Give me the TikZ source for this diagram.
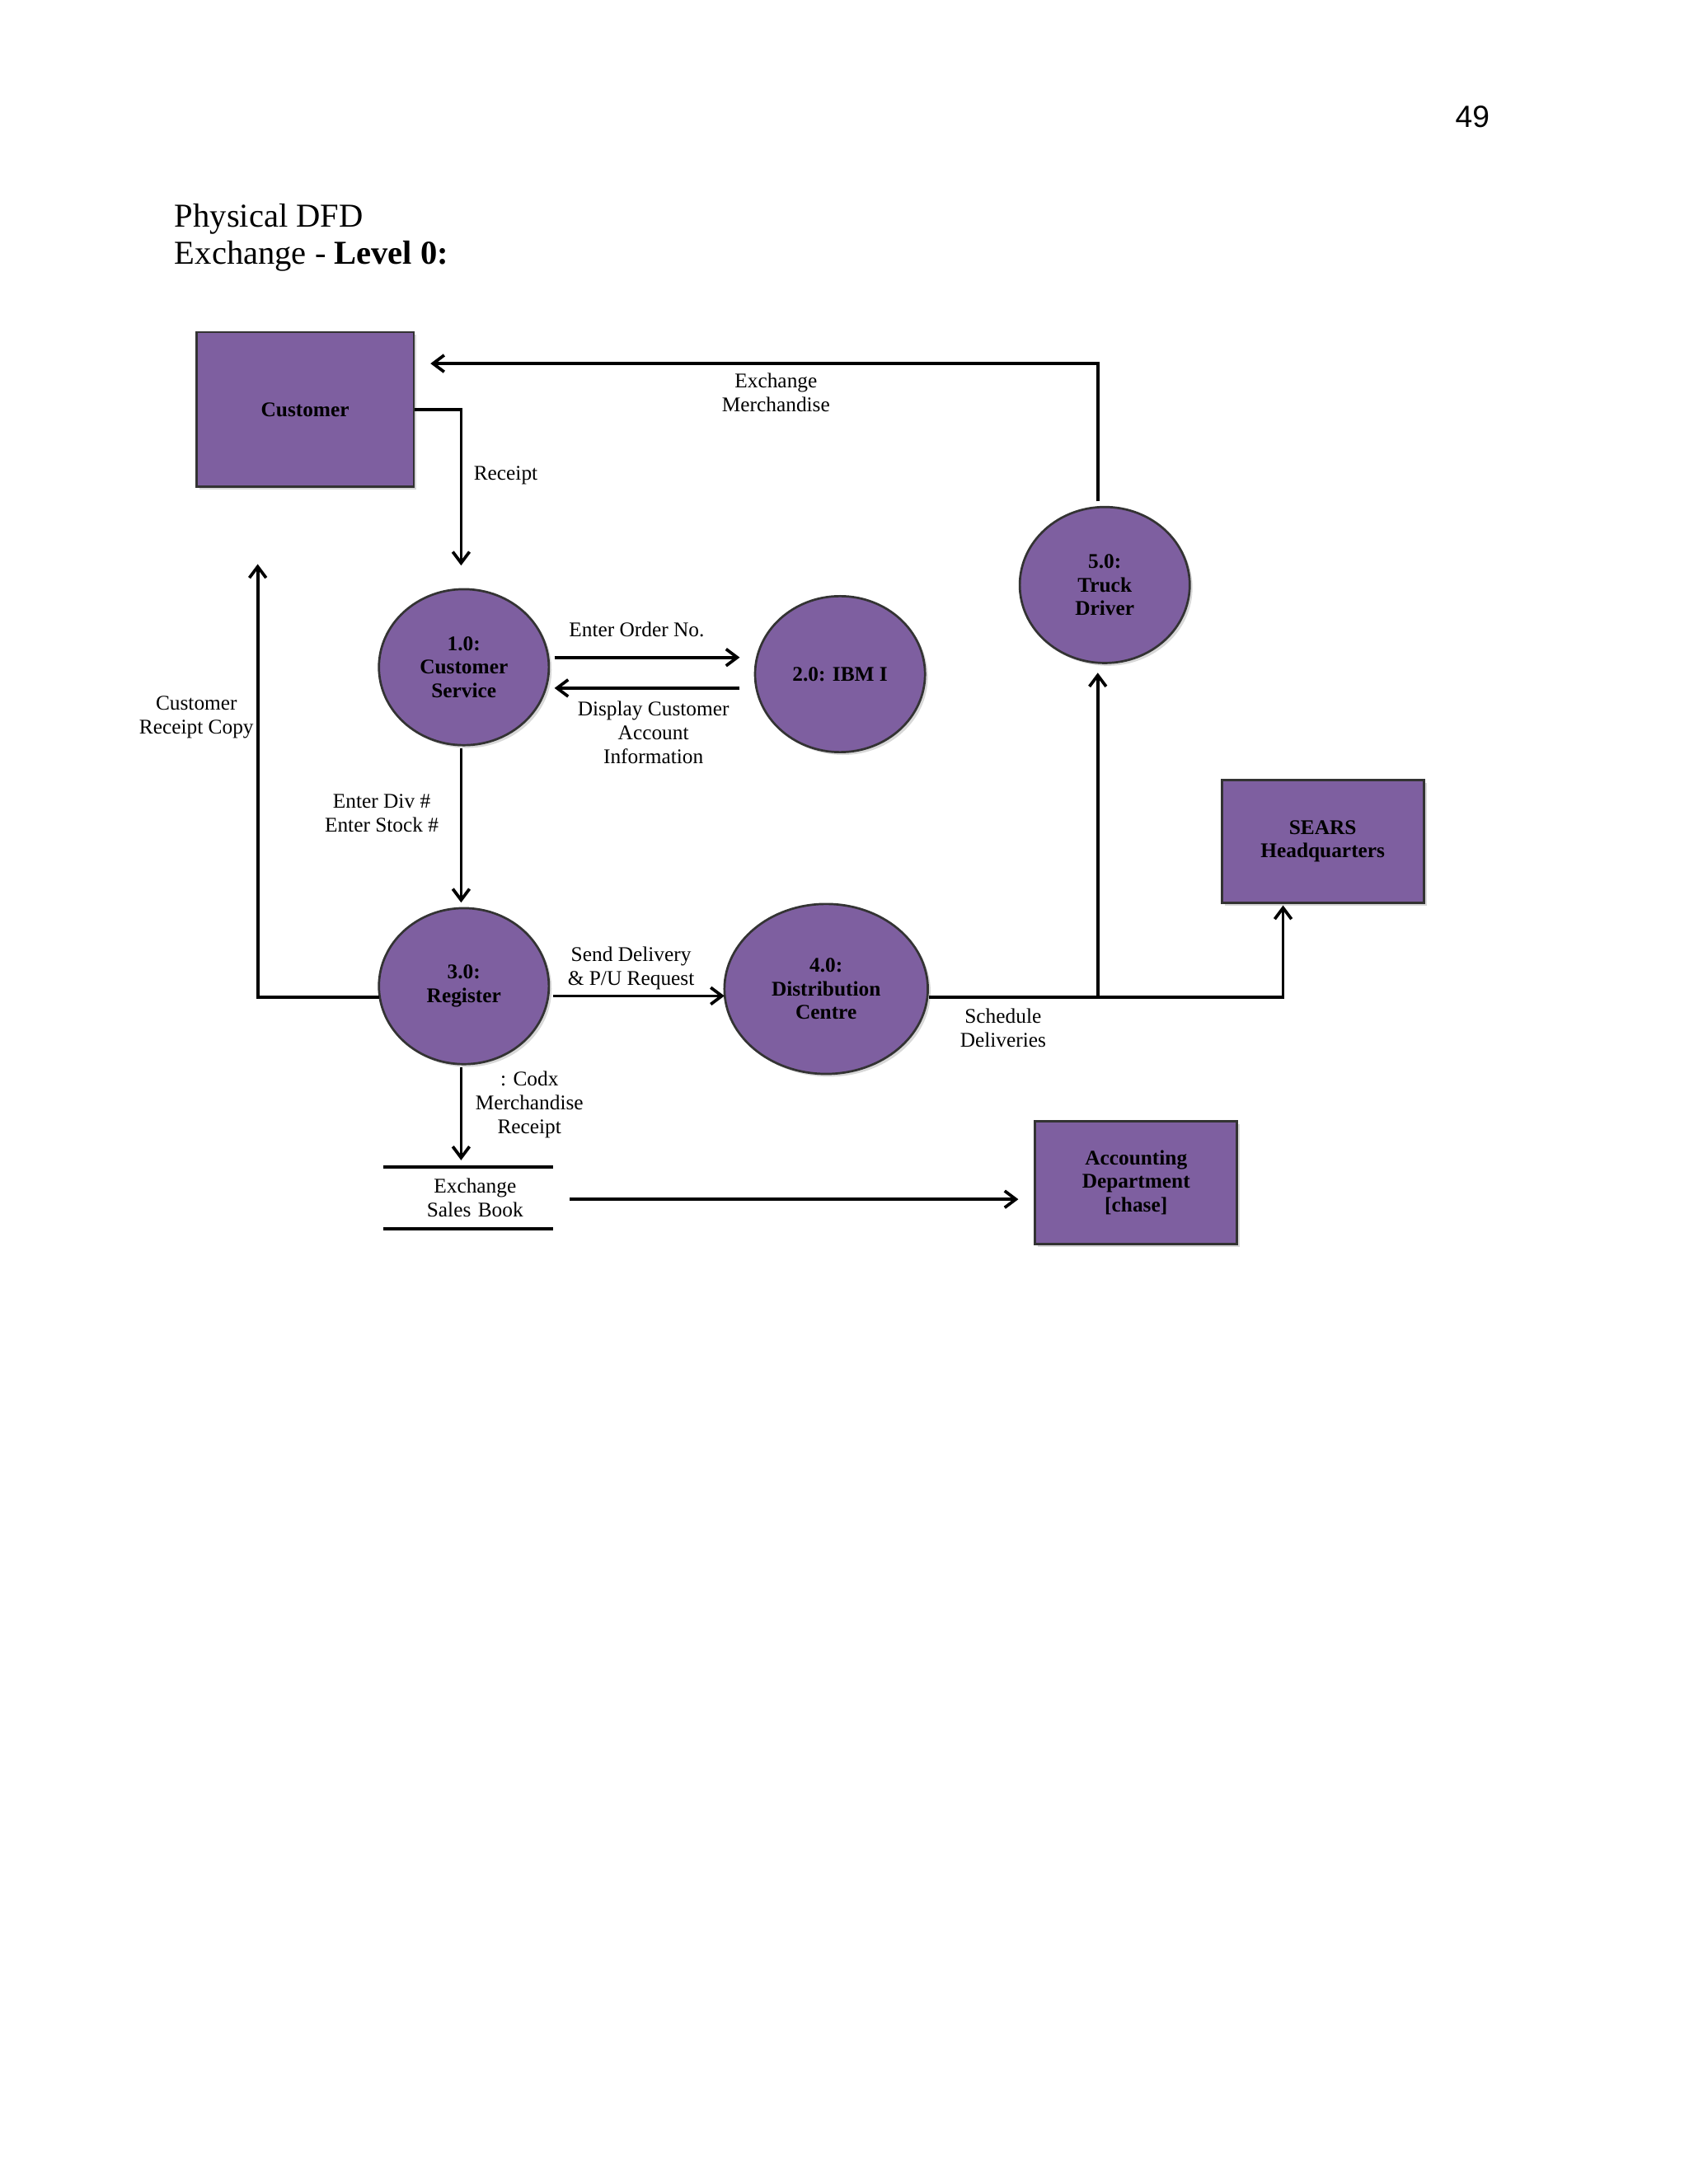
\documentclass[tikz,border=0pt]{standalone}
\usepackage{fontspec}
\setmainfont{Liberation Serif}
\newfontfamily\pagesans{Liberation Sans}
\usetikzlibrary{shapes.geometric,arrows.meta,shadows}
\definecolor{dfdpurple}{HTML}{7E5FA0}
\begin{document}
\begin{tikzpicture}[x=0.5pt,y=-0.5pt,
  ent/.style={draw=black!80,line width=0.8pt,fill=dfdpurple,rectangle,inner sep=0pt,
     font=\fontsize{7.5}{8.5}\selectfont\bfseries,align=center,drop shadow={shadow xshift=1pt,shadow yshift=-1pt,opacity=0.3}},
  proc/.style={draw=black!80,line width=0.8pt,fill=dfdpurple,ellipse,inner sep=0pt,
     minimum width=61pt,minimum height=56pt,font=\fontsize{7.5}{8.5}\selectfont\bfseries,align=center,
     drop shadow={shadow xshift=1pt,shadow yshift=-1pt,opacity=0.3}},
  flow/.style={line width=1.1pt,-{Straight Barb[length=4pt,width=6pt]}},
  line/.style={line width=1.1pt},
  lbl/.style={font=\fontsize{7.5}{8.5}\selectfont,align=center,inner sep=1pt}]
\useasboundingbox[fill=white] (0,0) rectangle (1212,1568);
\node[font=\pagesans\fontsize{11}{13}\selectfont] (pg) at (1057,84) {49};
\node[anchor=west,font=\fontsize{12}{14}\selectfont,inner sep=0pt] (t1) at (125,157) {Physical DFD};
\node[anchor=west,font=\fontsize{12}{14}\selectfont,inner sep=0pt] (t2) at (125,184) {Exchange - \textbf{Level 0:}};

\node[ent,minimum width=78pt,minimum height=55.5pt] (cust) at (219,294) {Customer};
\node[proc] (p1) at (333,479) {1.0:\\Customer\\Service};
\node[proc] (p2) at (603,484) {2.0: IBM I};
\node[proc] (p5) at (793,420) {5.0:\\Truck\\Driver};
\node[proc] (p3) at (333,708) {3.0:\\Register};
\node[proc,minimum width=73pt,minimum height=61pt] (p4) at (593,710) {4.0:\\Distribution\\Centre};
\node[ent,minimum width=72.5pt,minimum height=44pt] (sears) at (949.5,604) {SEARS\\Headquarters};
\node[ent,minimum width=72.5pt,minimum height=44pt] (acct) at (815.5,849) {Accounting\\Department\\{[chase]}};
\node[lbl,text width=55pt] (store) at (341,860) {Exchange\\Sales Book};
\draw[line] (275,838) -- (397,838) (275,882) -- (397,882);

\coordinate (c1) at (331,294);
\coordinate (c2) at (788,261);
\coordinate (c3) at (185,716);
\coordinate (c4) at (921,716);
\coordinate (c5) at (788,716);

\draw[flow] (cust.east |- c1) -- (c1) -- (331,406);
\draw[flow] (788,360) -- (c2) -- (309,261);
\draw[flow] (398,472) -- (531,472);
\draw[flow] (531,494) -- (398,494);
\draw[flow] (331,537) -- (331,648);
\draw[flow] (272,716) -- (c3) -- (185,405);
\draw[flow] (397,715) -- (520,715);
\draw[flow] (667,716) -- (c4) -- (921,650);
\draw[flow] (c5) -- (788,483);
\draw[flow] (331,766) -- (331,833);
\draw[flow] (409,861) -- (731,861);

\node[lbl] at (363,341) {Receipt};
\node[lbl] at (557,282) {Exchange\\Merchandise};
\node[lbl] at (457,452) {Enter Order No.};
\node[lbl] at (469,526) {Display Customer\\Account\\Information};
\node[lbl] at (274,584) {Enter Div \#\\Enter Stock \#};
\node[lbl] at (141,515) {Customer\\Receipt Copy};
\node[lbl] at (453,695) {Send Delivery\\\& P/U Request};
\node[lbl] at (720,738) {Schedule\\Deliveries};
\node[lbl] at (380,793) {: Codx\\Merchandise\\Receipt};
\end{tikzpicture}
\end{document}
